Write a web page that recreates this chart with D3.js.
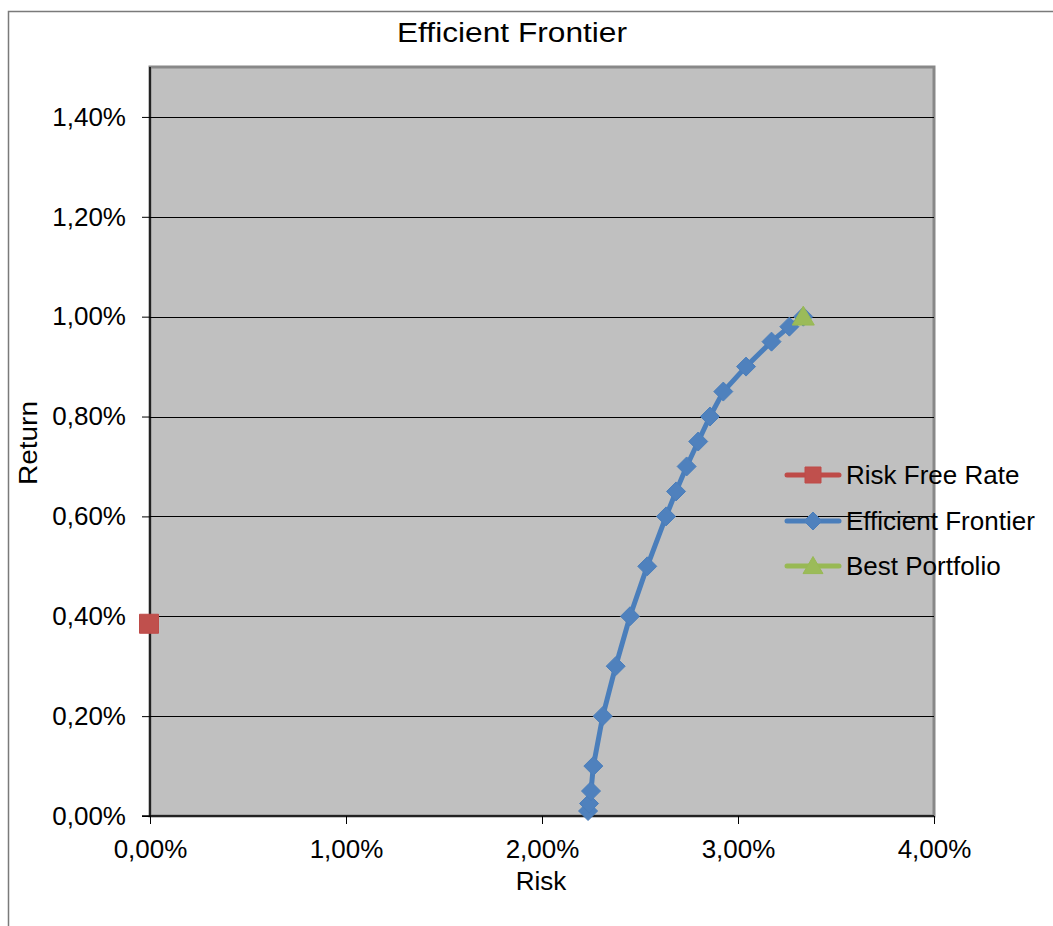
<!DOCTYPE html>
<html>
<head>
<meta charset="utf-8">
<script src="https://cdn.jsdelivr.net/npm/d3@7"></script>
<style>
  html, body { margin: 0; padding: 0; background: #fff; }
  svg { display: block; }
  text { font-family: "Liberation Sans", Arial, sans-serif; fill: #000; }
</style>
</head>
<body>
<svg id="chart" width="1053" height="926"></svg>
<script>
// ---- Data (values in percent) ----
const frontierRisk   = [2.235, 2.240, 2.250, 2.262, 2.310, 2.376, 2.449, 2.537, 2.633, 2.684, 2.738, 2.797, 2.857, 2.925, 3.041, 3.171, 3.262, 3.333];
const frontierReturn = [0.010, 0.025, 0.050, 0.100, 0.200, 0.300, 0.400, 0.500, 0.600, 0.650, 0.700, 0.750, 0.800, 0.850, 0.900, 0.950, 0.980, 1.000];
const riskFreeRisk   = [0.0];
const riskFreeReturn = [0.385];
const bestRisk       = [3.333];
const bestReturn     = [1.000];
const xTicks = [0, 1, 2, 3, 4];
const yTicks = [0, 0.2, 0.4, 0.6, 0.8, 1.0, 1.2, 1.4];
const seriesNames = ["Risk Free Rate", "Efficient Frontier", "Best Portfolio"];
const title = "Efficient Frontier";
const xTitle = "Risk";
const yTitle = "Return";

// ---- Layout ----
const svg = d3.select("#chart");
const plot = { left: 150, top: 67, right: 934, bottom: 816 };
const x = d3.scaleLinear().domain([0, 4]).range([plot.left, plot.right]);
const y = d3.scaleLinear().domain([0, 1.5]).range([plot.bottom, plot.top]);
const fmt = v => v.toFixed(2).replace(".", ",") + "%";

const colors = {
  rf: { fill: "#C0504D", stroke: "#BE4B48" },
  ef: { fill: "#4F81BD", stroke: "#4A7EBB" },
  bp: { fill: "#9BBB59", stroke: "#98B954" }
};

// outer chart border
svg.append("rect").attr("x", 8.5).attr("y", 11.5).attr("width", 1200).attr("height", 1200)
  .attr("fill", "#fff").attr("stroke", "#7a7a7a").attr("stroke-width", 1.5);

// plot area
svg.append("rect").attr("x", plot.left).attr("y", plot.top)
  .attr("width", plot.right - plot.left).attr("height", plot.bottom - plot.top)
  .attr("fill", "#C0C0C0").attr("stroke", "#888").attr("stroke-width", 3);

// gridlines
svg.append("g").selectAll("line").data(yTicks.filter(d => d > 0)).join("line")
  .attr("x1", plot.left).attr("x2", plot.right)
  .attr("y1", d => Math.round(y(d)) + 0.5).attr("y2", d => Math.round(y(d)) + 0.5)
  .attr("stroke", "#000").attr("stroke-width", 1);

// axes
const yAxis = d3.axisLeft(y).tickValues(yTicks).tickFormat(fmt).tickSize(8).tickPadding(16);
const xAxis = d3.axisBottom(x).tickValues(xTicks).tickFormat(fmt).tickSize(8).tickPadding(14);

const gy = svg.append("g").attr("transform", `translate(${plot.left},0)`).call(yAxis);
const gx = svg.append("g").attr("transform", `translate(0,${plot.bottom})`).call(xAxis);
[gx, gy].forEach(g => {
  g.select(".domain").attr("stroke", "#000").attr("stroke-width", 1.5);
  g.selectAll(".tick line").attr("stroke", "#000").attr("stroke-width", 1);
  g.selectAll(".tick text").attr("font-size", 26).attr("font-family", "Liberation Sans, Arial, sans-serif").attr("fill", "#000");
});
gy.select(".domain").attr("d", `M-8,${plot.bottom}H0V${plot.top}`);
gx.select(".domain").attr("d", `M${plot.left},0H${plot.right}`);
gx.selectAll(".tick text").attr("dy", "0.78em");

// titles
svg.append("text").attr("x", 512).attr("y", 42).attr("text-anchor", "middle")
  .attr("font-size", 27).attr("textLength", 230).attr("lengthAdjust", "spacingAndGlyphs").text(title);
svg.append("text").attr("x", 541).attr("y", 890).attr("text-anchor", "middle")
  .attr("font-size", 26).text(xTitle);
svg.append("text").attr("transform", "translate(37,443) rotate(-90)").attr("text-anchor", "middle")
  .attr("font-size", 25).attr("textLength", 84).attr("lengthAdjust", "spacingAndGlyphs").text(yTitle);

// series
const line = d3.line().x(d => x(d[0])).y(d => y(d[1]));
const efData = frontierRisk.map((r, i) => [r, frontierReturn[i]]);
const rfData = riskFreeRisk.map((r, i) => [r, riskFreeReturn[i]]);
const bpData = bestRisk.map((r, i) => [r, bestReturn[i]]);

svg.append("path").datum(efData).attr("d", line)
  .attr("fill", "none").attr("stroke", colors.ef.stroke).attr("stroke-width", 5)
  .attr("stroke-linejoin", "round").attr("stroke-linecap", "round");

const diamond = s => `M0,${-s}L${s},0L0,${s}L${-s},0Z`;
const square = s => `M${-s},${-s}H${s}V${s}H${-s}Z`;
const triangle = s => `M0,${-s}L${s * 1.05},${s * 0.8}L${-s * 1.05},${s * 0.8}Z`;

svg.append("g").selectAll("path").data(efData).join("path")
  .attr("transform", d => `translate(${x(d[0])},${y(d[1])})`)
  .attr("d", diamond(9.5)).attr("fill", colors.ef.fill).attr("stroke", colors.ef.stroke).attr("stroke-width", 1);

svg.append("g").selectAll("path").data(rfData).join("path")
  .attr("transform", d => `translate(${x(d[0]) - 1},${y(d[1])})`)
  .attr("d", square(9.5)).attr("fill", colors.rf.fill).attr("stroke", colors.rf.stroke).attr("stroke-width", 1);

svg.append("g").selectAll("path").data(bpData).join("path")
  .attr("transform", d => `translate(${x(d[0])},${y(d[1])})`)
  .attr("d", triangle(10.5)).attr("fill", colors.bp.fill).attr("stroke", colors.bp.stroke).attr("stroke-width", 1);

// legend
const legendKeys = [
  { c: colors.rf, m: square(8) },
  { c: colors.ef, m: diamond(9) },
  { c: colors.bp, m: triangle(9.5) }
];
const legendY = [475, 521, 566];
const lg = svg.append("g");
seriesNames.forEach((name, i) => {
  const g = lg.append("g").attr("transform", `translate(0,${legendY[i]})`);
  g.append("line").attr("x1", 787).attr("x2", 839).attr("y1", 0).attr("y2", 0)
    .attr("stroke", legendKeys[i].c.stroke).attr("stroke-width", 5).attr("stroke-linecap", "round");
  g.append("path").attr("transform", "translate(813,0)").attr("d", legendKeys[i].m)
    .attr("fill", legendKeys[i].c.fill).attr("stroke", legendKeys[i].c.stroke);
  g.append("text").attr("x", 846).attr("y", 9).attr("font-size", 26).text(name);
});
</script>
</body>
</html>
